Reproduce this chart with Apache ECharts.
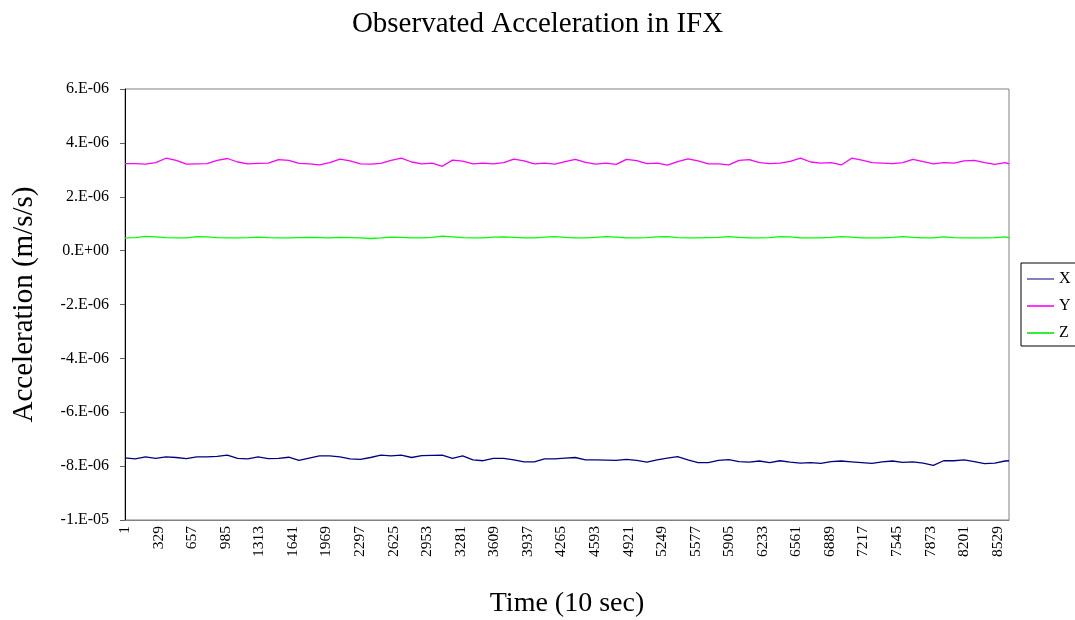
<!DOCTYPE html>
<html>
<head>
<meta charset="utf-8">
<script src="https://cdn.jsdelivr.net/npm/echarts@6/dist/echarts.min.js"></script>
<style>
  html, body { margin: 0; padding: 0; background: #ffffff; }
  #chart { width: 1075px; height: 620px; }
</style>
</head>
<body>
<div id="chart"></div>
<script>
// Sample times (index in 10-second steps) at which the three components are plotted
const sampleTimes = [
  1, 101, 201, 301, 401, 501, 601, 701, 801, 901,
  1001, 1101, 1201, 1301, 1401, 1501, 1601, 1701, 1801, 1901,
  2001, 2101, 2201, 2301, 2401, 2501, 2601, 2701, 2801, 2901,
  3001, 3101, 3201, 3301, 3401, 3501, 3601, 3701, 3801, 3901,
  4001, 4101, 4201, 4301, 4401, 4501, 4601, 4701, 4801, 4901,
  5001, 5101, 5201, 5301, 5401, 5501, 5601, 5701, 5801, 5901,
  6001, 6101, 6201, 6301, 6401, 6501, 6601, 6701, 6801, 6901,
  7001, 7101, 7201, 7301, 7401, 7501, 7601, 7701, 7801, 7901,
  8001, 8101, 8201, 8301, 8401, 8501, 8601, 8640
];

// Acceleration components, in units of 1e-6 m/s/s
const accelX = [
  -7.69, -7.73, -7.66, -7.71, -7.66, -7.68, -7.72, -7.66, -7.66, -7.64,
  -7.59, -7.71, -7.73, -7.66, -7.72, -7.71, -7.67, -7.79, -7.70, -7.62,
  -7.62, -7.66, -7.73, -7.75, -7.68, -7.59, -7.62, -7.59, -7.68, -7.61,
  -7.60, -7.59, -7.71, -7.62, -7.77, -7.80, -7.71, -7.71, -7.77, -7.84,
  -7.84, -7.73, -7.73, -7.70, -7.68, -7.77, -7.77, -7.78, -7.79, -7.75,
  -7.79, -7.85, -7.77, -7.70, -7.65, -7.77, -7.87, -7.87, -7.79, -7.76,
  -7.83, -7.85, -7.81, -7.87, -7.80, -7.85, -7.89, -7.87, -7.90, -7.83,
  -7.81, -7.84, -7.87, -7.90, -7.84, -7.81, -7.86, -7.84, -7.89, -7.97,
  -7.80, -7.80, -7.77, -7.83, -7.91, -7.89, -7.81, -7.80
];
const accelY = [
  3.23, 3.23, 3.21, 3.27, 3.43, 3.35, 3.21, 3.22, 3.23, 3.35,
  3.42, 3.29, 3.22, 3.24, 3.25, 3.38, 3.35, 3.24, 3.22, 3.18,
  3.27, 3.40, 3.33, 3.22, 3.21, 3.24, 3.35, 3.43, 3.29, 3.22,
  3.25, 3.13, 3.36, 3.32, 3.22, 3.25, 3.22, 3.27, 3.40, 3.33,
  3.22, 3.25, 3.21, 3.30, 3.39, 3.28, 3.21, 3.25, 3.20, 3.39,
  3.34, 3.23, 3.25, 3.17, 3.30, 3.41, 3.33, 3.22, 3.22, 3.18,
  3.35, 3.38, 3.27, 3.23, 3.25, 3.31, 3.43, 3.29, 3.25, 3.27,
  3.18, 3.43, 3.36, 3.27, 3.25, 3.23, 3.27, 3.39, 3.30, 3.22,
  3.27, 3.25, 3.33, 3.35, 3.27, 3.20, 3.27, 3.22
];
const accelZ = [
  0.47, 0.48, 0.53, 0.51, 0.48, 0.47, 0.47, 0.52, 0.51, 0.48,
  0.47, 0.47, 0.48, 0.50, 0.48, 0.47, 0.47, 0.48, 0.49, 0.48,
  0.47, 0.49, 0.48, 0.47, 0.45, 0.47, 0.50, 0.49, 0.47, 0.47,
  0.49, 0.54, 0.51, 0.48, 0.47, 0.47, 0.50, 0.51, 0.49, 0.47,
  0.47, 0.50, 0.52, 0.49, 0.47, 0.47, 0.49, 0.52, 0.50, 0.47,
  0.47, 0.48, 0.51, 0.52, 0.48, 0.47, 0.47, 0.48, 0.49, 0.52,
  0.49, 0.47, 0.47, 0.48, 0.52, 0.51, 0.47, 0.47, 0.47, 0.49,
  0.52, 0.50, 0.47, 0.47, 0.47, 0.49, 0.52, 0.49, 0.47, 0.47,
  0.51, 0.48, 0.47, 0.47, 0.47, 0.48, 0.51, 0.48
];

// Time axis runs over one day of 10-second samples; every 328th one is labelled
const totalSamples = 8640;
const labelStep = 328;
const timeCategories = [];
for (let t = 1; t <= totalSamples; t++) timeCategories.push(String(t));

// Y axis range (1e-6 m/s/s)
const yMin = -10, yMax = 6, yStep = 2;

const seriesNames = ['X', 'Y', 'Z'];
const seriesColors = ['#000080', '#ff00ff', '#00ff00'];
const legendColors = ['#8080c0', '#ff33ff', '#33ee33'];

function pairs(values) {
  return values.map((v, i) => [String(sampleTimes[i]), v]);
}

// Excel-style scientific labels, e.g. 6.E-06, 0.E+00, -1.E-05
function sciLabel(v) {
  const x = v * 1e-6;
  if (Math.abs(v) < 1e-9) return '0.E+00';
  const exp = Math.floor(Math.log10(Math.abs(x)) + 1e-9);
  const mant = Math.round(x / Math.pow(10, exp));
  const e = Math.abs(exp);
  return mant + '.E' + (exp < 0 ? '-' : '+') + (e < 10 ? '0' + e : e);
}

const serif = '"Liberation Serif", "Times New Roman", serif';
const chart = echarts.init(document.getElementById('chart'), null, { renderer: 'canvas' });

chart.setOption({
  animation: false,
  backgroundColor: '#ffffff',
  title: {
    text: 'Observated Acceleration in IFX',
    left: 'center',
    top: 5,
    textStyle: { fontFamily: serif, fontSize: 29, fontWeight: 'normal', color: '#000000' }
  },
  legend: {
    orient: 'vertical',
    left: 1021,
    top: 263,
    padding: [8, 14, 5, 6],
    itemGap: 11,
    itemWidth: 27,
    itemHeight: 2,
    icon: 'rect',
    borderColor: '#000000',
    borderWidth: 1,
    textStyle: { fontFamily: serif, fontSize: 16, lineHeight: 16, color: '#000000' },
    data: seriesNames.map((n, i) => ({ name: n, itemStyle: { color: legendColors[i] } }))
  },
  grid: {
    left: 125,
    top: 89,
    right: 66,
    bottom: 100,
    outerBoundsMode: 'none',
    containLabel: false,
    show: true,
    borderColor: '#808080',
    borderWidth: 1
  },
  xAxis: {
    type: 'category',
    data: timeCategories,
    boundaryGap: false,
    name: 'Time (10 sec)',
    nameLocation: 'middle',
    nameGap: 70,
    nameTextStyle: { fontFamily: serif, fontSize: 28, color: '#000000' },
    axisLine: { onZero: false, lineStyle: { color: '#808080', width: 1 } },
    axisTick: { show: false },
    axisLabel: {
      interval: labelStep - 1,
      rotate: 90,
      margin: 6,
      fontFamily: serif,
      fontSize: 15.5,
      color: '#000000'
    },
    splitLine: { show: false }
  },
  yAxis: {
    type: 'value',
    min: yMin,
    max: yMax,
    interval: yStep,
    name: 'Acceleration (m/s/s)',
    nameLocation: 'middle',
    nameGap: 86,
    nameTextStyle: { fontFamily: serif, fontSize: 29, color: '#000000' },
    axisLine: { show: true, lineStyle: { color: '#000000', width: 1 } },
    axisTick: { show: true, length: 5, lineStyle: { color: '#606060' } },
    axisLabel: {
      margin: 16,
      fontFamily: serif,
      fontSize: 16,
      color: '#000000',
      formatter: sciLabel
    },
    splitLine: { show: false }
  },
  series: [accelX, accelY, accelZ].map((vals, i) => ({
    name: seriesNames[i],
    type: 'line',
    data: pairs(vals),
    showSymbol: false,
    symbol: 'none',
    lineStyle: { color: seriesColors[i], width: 1.3 },
    itemStyle: { color: seriesColors[i] }
  }))
});
</script>
</body>
</html>
